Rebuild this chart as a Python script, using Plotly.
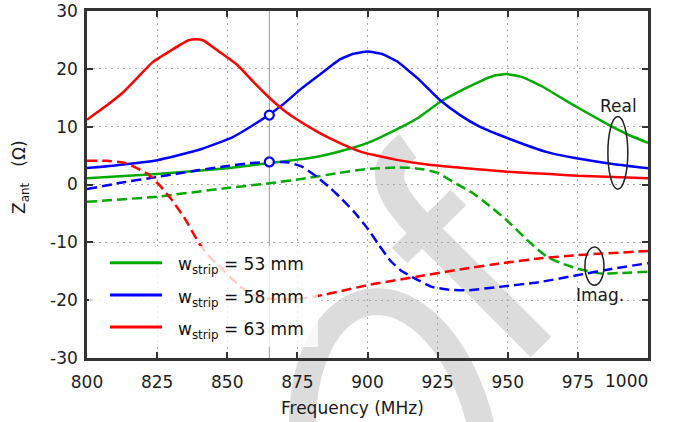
import numpy as np
import plotly.graph_objects as go

# ---------------- data ----------------
x_red_re = [800, 806, 813, 818, 823.5, 830, 836, 839, 841.5, 847, 853.5, 860, 865, 870, 875, 883, 890, 898, 910, 922, 935, 950, 965, 975, 990, 1000]
y_red_re = [11.2, 13.3, 16.0, 18.5, 21.2, 23.2, 24.9, 25.1, 24.9, 23.0, 20.7, 17.4, 15.0, 12.9, 11.2, 8.9, 7.2, 5.6, 4.3, 3.4, 2.8, 2.2, 1.8, 1.5, 1.25, 1.1]

x_blue_re = [800, 810, 825, 840, 852, 860, 865, 870, 876, 883, 890, 895, 900, 905, 910.5, 918, 925.8, 933, 940, 950, 964, 975, 988, 1000]
y_blue_re = [2.85, 3.3, 4.2, 6.0, 8.2, 10.5, 12.1, 13.9, 16.4, 19.0, 21.6, 22.6, 23.0, 22.6, 21.3, 18.3, 14.6, 12.0, 10.0, 8.0, 5.6, 4.5, 3.5, 2.8]

x_green_re = [800, 825, 850, 865, 875, 883, 890, 900, 911.5, 918, 926, 934, 940, 945, 949.5, 955, 962.5, 968, 974.6, 986, 993, 1000]
y_green_re = [1.1, 1.8, 2.8, 3.7, 4.3, 4.9, 5.7, 7.2, 9.8, 11.5, 14.3, 16.4, 17.8, 18.8, 19.1, 18.6, 16.9, 15.3, 13.4, 10.3, 8.6, 7.2]

x_green_im = [800, 825, 850, 865, 877, 890, 900, 910, 915, 920, 925, 931, 937.6, 943, 949.7, 958, 964, 969, 974.6, 983, 990, 1000]
y_green_im = [-3.0, -2.1, -0.6, 0.2, 1.0, 2.0, 2.7, 2.95, 2.9, 2.6, 2.0, 0.3, -1.5, -3.5, -6.2, -10.1, -12.5, -13.6, -14.5, -15.4, -15.3, -15.1]

x_blue_im = [800, 812, 825, 840, 850, 858, 865, 872, 877, 882, 886, 890, 895, 900, 904, 908, 912, 916, 923, 929, 935.4, 947, 961, 974.6, 987, 1000]
y_blue_im = [-0.8, 0.3, 1.3, 2.5, 3.2, 3.7, 3.9, 3.8, 3.0, 1.3, -0.3, -2.1, -4.6, -7.6, -10.4, -13.1, -14.9, -16.0, -17.7, -18.2, -18.3, -17.7, -16.9, -15.7, -14.6, -13.6]

x_red_im = [800, 807, 813, 817, 821.4, 826, 830.6, 835, 840, 844, 847.4, 851, 855.6, 860, 864, 873.5, 883, 890, 900, 918, 934, 948, 961, 975, 1000]
y_red_im = [4.1, 4.1, 3.8, 3.0, 1.9, -0.2, -2.9, -6.0, -10.2, -12.7, -14.2, -16.0, -18.0, -19.2, -19.7, -19.9, -19.2, -18.5, -17.4, -15.9, -14.6, -13.6, -12.8, -12.2, -11.5]

marker_x = [865, 865]
marker_y = [12.0, 3.9]

legend_labels = ["w<sub>strip</sub> = 53 mm", "w<sub>strip</sub> = 58 mm", "w<sub>strip</sub> = 63 mm"]
colors = ["#00aa00", "#0000ff", "#ff0000"]

x_tickvals = [800, 825, 850, 875, 900, 925, 950, 975]
x_ticktext = ["800", "825", "850", "875", "900", "925", "950", "975"]
y_tickvals = [-30, -20, -10, 0, 10, 20, 30]
y_ticktext = ["-30", "-20", "-10", "0", "10", "20", "30"]

# ---------------- layout geometry ----------------
W, H = 677, 422
L, R, T, B = 87, 29, 11, 64
PW = W - L - R
PH = H - T - B
FONT = "DejaVu Sans"
FS = 17


def px(x):
    return (x - L) / PW


def py(y):
    return (H - B - y) / PH


fig = go.Figure()

series = [
    (x_green_re, y_green_re, colors[0], "solid"),
    (x_blue_re, y_blue_re, colors[1], "solid"),
    (x_red_re, y_red_re, colors[2], "solid"),
    (x_green_im, y_green_im, colors[0], "10px,5px"),
    (x_blue_im, y_blue_im, colors[1], "10px,5px"),
    (x_red_im, y_red_im, colors[2], "10px,5px"),
]
for xs, ys, c, d in series:
    fig.add_trace(go.Scatter(x=xs, y=ys, mode="lines",
                             line=dict(color=c, width=2.5, dash=d, shape="spline", smoothing=0.4),
                             showlegend=False, hoverinfo="skip"))

fig.add_trace(go.Scatter(x=marker_x, y=marker_y, mode="markers",
                         marker=dict(symbol="circle", size=9, color="white",
                                     line=dict(color="#0000ff", width=2.2)),
                         showlegend=False, hoverinfo="skip"))

shapes = []
WM = "#dcdcdc"
# watermark ring
a, b, alpha = 155, 90, np.radians(10)
cx, cy = 395, 455
u = (-np.sin(alpha), -np.cos(alpha))
v = (np.cos(alpha), -np.sin(alpha))
ts = np.linspace(0, 2 * np.pi, 90)
pts = [(cx + a * np.cos(t) * u[0] + b * np.sin(t) * v[0],
        cy + a * np.cos(t) * u[1] + b * np.sin(t) * v[1]) for t in ts]
path = "M " + " L ".join(f"{px(x):.4f},{py(y):.4f}" for x, y in pts) + " Z"
shapes.append(dict(type="path", xref="paper", yref="paper", path=path,
                   line=dict(color=WM, width=27), fillcolor="rgba(0,0,0,0)", layer="below"))
# watermark main stroke
P = [(408, 146), (372, 172), (395, 201), (425, 231), (541, 347)]
path2 = (f"M {px(P[0][0]):.4f},{py(P[0][1]):.4f} C {px(P[1][0]):.4f},{py(P[1][1]):.4f} "
         f"{px(P[2][0]):.4f},{py(P[2][1]):.4f} {px(P[3][0]):.4f},{py(P[3][1]):.4f} "
         f"L {px(P[4][0]):.4f},{py(P[4][1]):.4f}")
shapes.append(dict(type="path", xref="paper", yref="paper", path=path2,
                   line=dict(color=WM, width=29), fillcolor="rgba(0,0,0,0)", layer="below"))
# watermark crossbar
shapes.append(dict(type="line", xref="paper", yref="paper",
                   x0=px(399.5), y0=py(255.5), x1=px(458.5), y1=py(197.5),
                   line=dict(color=WM, width=22), layer="below"))

# vertical marker line
shapes.append(dict(type="line", xref="x", yref="paper", x0=865, x1=865, y0=0, y1=1,
                   line=dict(color="#999999", width=1), layer="between"))

# legend background
shapes.append(dict(type="rect", xref="paper", yref="paper",
                   x0=px(89), x1=px(318), y0=py(347), y1=py(246),
                   fillcolor="rgba(255,255,255,0.8)", line=dict(width=0), layer="above"))
leg_y = [262.7, 295, 327]
annotations = []
for yy, c, lab in zip(leg_y, colors, legend_labels):
    shapes.append(dict(type="line", xref="paper", yref="paper",
                       x0=px(110), x1=px(162), y0=py(yy), y1=py(yy),
                       line=dict(color=c, width=3), layer="above"))
    annotations.append(dict(xref="paper", yref="paper", x=px(176), y=py(yy + 3),
                            xanchor="left", yanchor="middle", showarrow=False,
                            text=lab, font=dict(family=FONT, size=FS, color="#111")))

# Real / Imag ellipses
shapes.append(dict(type="circle", xref="x", yref="y", x0=985.7, x1=992.8, y0=-0.8, y1=11.75,
                   line=dict(color="#222", width=1.5), layer="above"))
shapes.append(dict(type="circle", xref="x", yref="y", x0=977.5, x1=984.3, y0=-17.4, y1=-10.8,
                   line=dict(color="#222", width=1.5), layer="above"))


def label(x, y, text, **kw):
    d = dict(xref="paper", yref="paper", x=px(x), y=py(y), showarrow=False,
             xanchor="center", yanchor="middle", text=text,
             font=dict(family=FONT, size=FS, color="#1a1a1a"))
    d.update(kw)
    return d


annotations.append(label(618, 106, "Real"))
annotations.append(label(600, 295, "Imag."))
# x tick label 1000 (right aligned at the border)
annotations.append(label(650, 381, "1000", xanchor="right"))
# axis titles
annotations.append(label(352, 408, "Frequency (MHz)"))
annotations.append(label(21, 177, "Z<sub>ant</sub>   (Ω)", textangle=-90))

axis_common = dict(showline=True, linewidth=2.5, linecolor="#333", mirror="allticks",
                   ticks="inside", ticklen=6, tickwidth=1.5, tickcolor="#333",
                   showgrid=True, gridcolor="#aaaaaa", gridwidth=1, griddash="2px,4px",
                   zeroline=False, automargin=False,
                   tickfont=dict(family=FONT, size=FS, color="#222"))

fig.update_layout(
    width=W, height=H,
    margin=dict(l=L, r=R, t=T, b=B, autoexpand=False),
    paper_bgcolor="white", plot_bgcolor="white",
    shapes=shapes, annotations=annotations, showlegend=False,
    xaxis=dict(range=[800, 1000], tickvals=x_tickvals, ticktext=x_ticktext,
               ticklabelstandoff=7, **axis_common),
    yaxis=dict(range=[-30, 30], tickvals=y_tickvals, ticktext=y_ticktext,
               ticklabelstandoff=3, **axis_common),
)

fig.write_html("out.html", config={"displayModeBar": False},
               post_script="document.body.style.margin='0';")
